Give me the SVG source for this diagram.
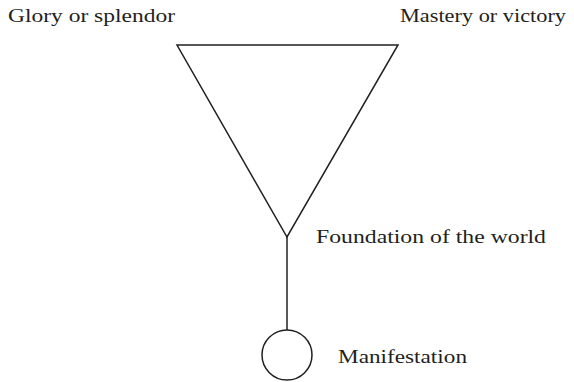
<svg xmlns="http://www.w3.org/2000/svg" width="574" height="382" viewBox="0 0 574 382">
<style>
.t{font-family:"Liberation Serif","DejaVu Serif",serif;font-size:19px;fill:#231f20}
.s{fill:none;stroke:#231f20;stroke-width:1.5}
</style>
<rect width="574" height="382" fill="#fff"/>
<g id="connectors">
<line class="s" x1="287" y1="237" x2="287" y2="330"/>
</g>
<g id="triangle">
<polygon class="s" points="177,45 398,45 287,237" stroke-linejoin="miter"/>
</g>
<g id="circle">
<circle class="s" cx="287" cy="355" r="25"/>
</g>
<g id="label-glory"><text class="t" x="8" y="22" textLength="167" lengthAdjust="spacingAndGlyphs">Glory or splendor</text></g>
<g id="label-mastery"><text class="t" x="400" y="22" textLength="166" lengthAdjust="spacingAndGlyphs">Mastery or victory</text></g>
<g id="label-foundation"><text class="t" x="316" y="243" textLength="230" lengthAdjust="spacingAndGlyphs">Foundation of the world</text></g>
<g id="label-manifestation"><text class="t" x="338" y="363" textLength="129" lengthAdjust="spacingAndGlyphs">Manifestation</text></g>
</svg>
